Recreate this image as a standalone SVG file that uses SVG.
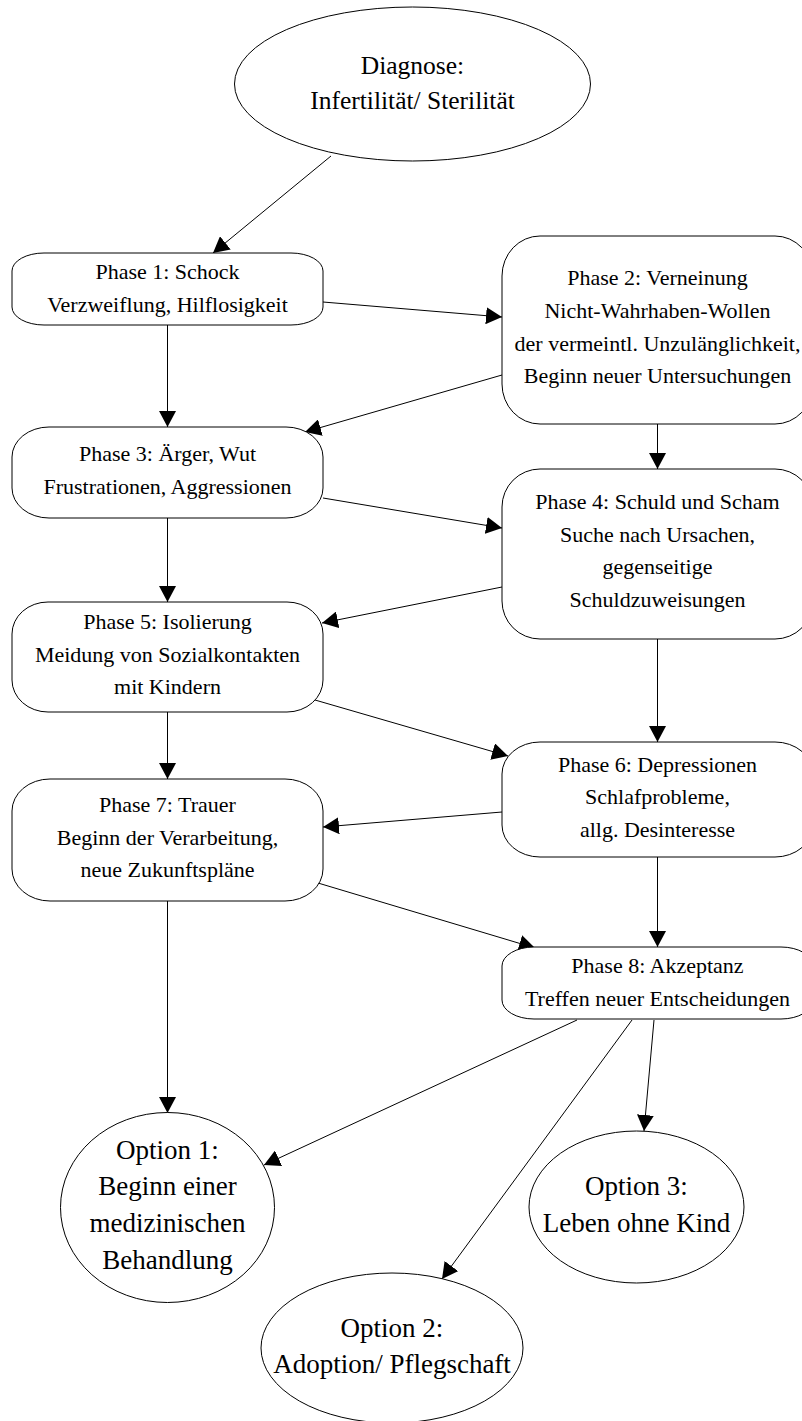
<svg xmlns="http://www.w3.org/2000/svg" width="802" height="1421" viewBox="0 0 802 1421">
<style>
.n{fill:#fff;stroke:#000;stroke-width:1}
.t{font-family:"Liberation Serif","Times New Roman",serif;fill:#000;text-anchor:middle}
.p{font-size:22px}
.d{font-size:25.5px}
.o{font-size:27px}
.e{stroke:#000;stroke-width:1;fill:none;marker-end:url(#ah)}
</style>
<defs>
<marker id="ah" markerWidth="16" markerHeight="17" refX="16" refY="8.5" orient="auto" markerUnits="userSpaceOnUse">
<path d="M0,0 L16,8.5 L0,17 Z" fill="#000"/>
</marker>
</defs>
<rect width="802" height="1421" fill="#fff"/>
<g id="edges">
<line class="e" x1="331" y1="156" x2="213" y2="253"/>
<line class="e" x1="323" y1="302" x2="502" y2="317"/>
<line class="e" x1="167.5" y1="325" x2="167.5" y2="427"/>
<line class="e" x1="502" y1="375" x2="305" y2="432"/>
<line class="e" x1="657.5" y1="424" x2="657.5" y2="469"/>
<line class="e" x1="323" y1="498" x2="502" y2="528"/>
<line class="e" x1="167.5" y1="518" x2="167.5" y2="602"/>
<line class="e" x1="502" y1="587" x2="322" y2="623"/>
<line class="e" x1="657.5" y1="639" x2="657.5" y2="742"/>
<line class="e" x1="315" y1="700" x2="508" y2="756"/>
<line class="e" x1="167.5" y1="712" x2="167.5" y2="779"/>
<line class="e" x1="502" y1="812" x2="323" y2="827"/>
<line class="e" x1="657.5" y1="857" x2="657.5" y2="947"/>
<line class="e" x1="318" y1="883" x2="535" y2="948"/>
<line class="e" x1="167.5" y1="901" x2="167.5" y2="1113"/>
<line class="e" x1="577" y1="1020" x2="264" y2="1165"/>
<line class="e" x1="632" y1="1020" x2="442" y2="1279"/>
<line class="e" x1="654" y1="1020" x2="644" y2="1131"/>
</g>
<g id="diagnose">
<ellipse class="n" cx="412.5" cy="84" rx="178" ry="77"/>
<text class="t d" x="412.5" y="74">Diagnose:</text>
<text class="t d" x="412.5" y="109">Infertilität/ Sterilität</text>
</g>
<g id="phase1">
<rect class="n" x="12" y="253" width="311" height="72" rx="32" ry="18"/>
<text class="t p" x="167.5" y="278.5">Phase 1: Schock</text>
<text class="t p" x="167.5" y="311.5">Verzweiflung, Hilflosigkeit</text>
</g>
<g id="phase2">
<rect class="n" x="502" y="236" width="311" height="188" rx="38" ry="40"/>
<text class="t p" x="657.5" y="285">Phase 2: Verneinung</text>
<text class="t p" x="657.5" y="318">Nicht-Wahrhaben-Wollen</text>
<text class="t p" x="657.5" y="350.5">der vermeintl. Unzulänglichkeit,</text>
<text class="t p" x="657.5" y="383">Beginn neuer Untersuchungen</text>
</g>
<g id="phase3">
<rect class="n" x="12" y="427" width="311" height="91" rx="37" ry="30"/>
<text class="t p" x="167.5" y="461">Phase 3: Ärger, Wut</text>
<text class="t p" x="167.5" y="494">Frustrationen, Aggressionen</text>
</g>
<g id="phase4">
<rect class="n" x="502" y="469" width="311" height="170" rx="38" ry="38"/>
<text class="t p" x="657.5" y="509">Phase 4: Schuld und Scham</text>
<text class="t p" x="657.5" y="542">Suche nach Ursachen,</text>
<text class="t p" x="657.5" y="574">gegenseitige</text>
<text class="t p" x="657.5" y="607">Schuldzuweisungen</text>
</g>
<g id="phase5">
<rect class="n" x="12" y="602" width="311" height="110" rx="36" ry="32"/>
<text class="t p" x="167.5" y="628.5">Phase 5: Isolierung</text>
<text class="t p" x="167.5" y="661.5">Meidung von Sozialkontakten</text>
<text class="t p" x="167.5" y="694">mit Kindern</text>
</g>
<g id="phase6">
<rect class="n" x="502" y="742" width="311" height="115" rx="38" ry="32"/>
<text class="t p" x="657.5" y="771.5">Phase 6: Depressionen</text>
<text class="t p" x="657.5" y="804">Schlafprobleme,</text>
<text class="t p" x="657.5" y="836.5">allg. Desinteresse</text>
</g>
<g id="phase7">
<rect class="n" x="12" y="779" width="311" height="122" rx="38" ry="32"/>
<text class="t p" x="167.5" y="812">Phase 7: Trauer</text>
<text class="t p" x="167.5" y="844.5">Beginn der Verarbeitung,</text>
<text class="t p" x="167.5" y="877">neue Zukunftspläne</text>
</g>
<g id="phase8">
<rect class="n" x="502" y="947" width="311" height="72" rx="32" ry="19"/>
<text class="t p" x="657.5" y="973">Phase 8: Akzeptanz</text>
<text class="t p" x="657.5" y="1005.5">Treffen neuer Entscheidungen</text>
</g>
<g id="option1">
<ellipse class="n" cx="167.5" cy="1207.5" rx="107" ry="95"/>
<text class="t o" x="167.5" y="1158.5">Option 1:</text>
<text class="t o" x="167.5" y="1195">Beginn einer</text>
<text class="t o" x="167.5" y="1232">medizinischen</text>
<text class="t o" x="167.5" y="1268.5">Behandlung</text>
</g>
<g id="option2">
<ellipse class="n" cx="392" cy="1348" rx="131" ry="75"/>
<text class="t o" x="392" y="1337">Option 2:</text>
<text class="t o" x="392" y="1373">Adoption/ Pflegschaft</text>
</g>
<g id="option3">
<ellipse class="n" cx="636.5" cy="1207" rx="107.5" ry="76"/>
<text class="t o" x="636.5" y="1195">Option 3:</text>
<text class="t o" x="636.5" y="1231.5">Leben ohne Kind</text>
</g>
</svg>
